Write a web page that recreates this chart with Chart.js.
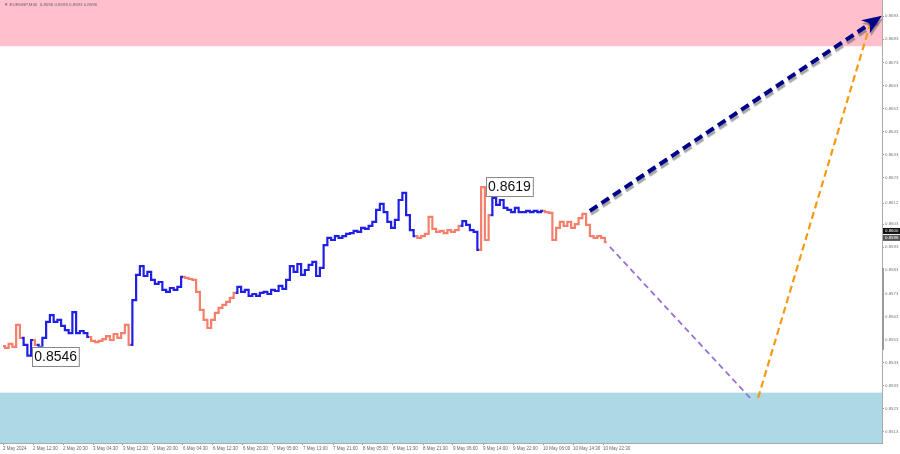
<!DOCTYPE html>
<html><head><meta charset="utf-8">
<script src="https://cdn.jsdelivr.net/npm/chart.js@4.4.1/dist/chart.umd.min.js"></script>
<style>html,body{margin:0;padding:0;background:#fff;}#wrap{width:900px;height:454px;position:relative;}</style>
</head><body><div id="wrap"><canvas id="c" width="900" height="454"></canvas></div>
<script>
// ---- data ----
const closes = [
0.85502,0.85494,0.85511,0.85498,0.85593,0.85537,0.85507,0.85460,0.85528,0.85507,
0.85498,0.85537,0.85606,0.85636,0.85606,0.85615,0.85589,0.85571,0.85558,0.85649,
0.85558,0.85567,0.85558,0.85541,0.85524,0.85519,0.85524,0.85532,0.85545,0.85528,
0.85554,0.85537,0.85558,0.85593,0.85507,0.85701,0.85810,0.85848,0.85805,0.85823,
0.85788,0.85771,0.85779,0.85745,0.85736,0.85753,0.85745,0.85758,0.85801,0.85797,
0.85792,0.85788,0.85736,0.85658,0.85615,0.85580,0.85615,0.85645,0.85667,0.85680,
0.85693,0.85710,0.85732,0.85758,0.85736,0.85745,0.85719,0.85727,0.85719,0.85732,
0.85736,0.85727,0.85745,0.85740,0.85762,0.85749,0.85788,0.85848,0.85823,0.85857,
0.85810,0.85831,0.85853,0.85866,0.85805,0.85840,0.85939,0.85970,0.85961,0.85978,
0.85970,0.85978,0.85987,0.85991,0.86000,0.85996,0.86013,0.86009,0.86022,0.86039,
0.86091,0.86117,0.86082,0.86039,0.86013,0.86048,0.86134,0.86165,0.86069,0.86004,
0.85978,0.85970,0.85978,0.85987,0.86061,0.86009,0.85996,0.86000,0.85991,0.86004,
0.85996,0.86004,0.86022,0.86043,0.86026,0.86004,0.85996,0.85918,0.86190,0.85961,
0.86069,0.86143,0.86113,0.86134,0.86100,0.86091,0.86082,0.86100,0.86082,0.86082,
0.86087,0.86082,0.86087,0.86082,0.86087,0.86082,0.86078,0.85961,0.86013,0.86039,
0.86022,0.86039,0.86013,0.86030,0.86056,0.86074,0.86026,0.85978,0.85970,0.85978,
0.85970,0.85952
];
const barStep = 2;
const waveStarts = [0,5,8,9,23,34,48,62,110,122,127,130,144];
const waveDirs = ['down','up','down','up','down','up','down','up','down','up','down','up','down'];
const timeLabels = ['2 May 2024','2 May 12:30','2 May 20:30','3 May 04:30','3 May 12:30','3 May 20:30',
 '6 May 04:30','6 May 12:30','6 May 20:30','7 May 05:00','7 May 13:00','7 May 21:00','8 May 05:30',
 '8 May 13:30','8 May 21:30','9 May 06:00','9 May 14:00','9 May 22:00','10 May 06:00','10 May 14:30','10 May 22:30'];
const barsPerLabel = 16;
const yTickLabels = ['0.8693','0.8683','0.8673','0.8663','0.8653','0.8643','0.8633','0.8623','0.8612',
 '0.8603','0.8593','0.8583','0.8573','0.8563','0.8553','0.8543','0.8533','0.8523','0.8513'];
const yMin = 0.85082, yMax = 0.87000;
const xMin = -1.6, xMax = 468.8;
const resistanceZone = [0.8680, 0.8700];
const supportZone = [0.85082, 0.8530];
const pathNavy = [[313, 0.86087], [467, 0.86922]];
const pathPurple = [[323.7, 0.85931], [399.5, 0.85268]];
const pathOrange = [[402.7, 0.85277], [462.4, 0.86892]];
const extremes = [{bar: 14, value: 0.8546, text: '0.8546'}, {bar: 256, value: 0.8619, text: '0.8619'}];
const titleText = '\u25BC EURGBP,M30  0.8596 0.8598 0.8593 0.8596';
const priceTags = [{value: 0.86000, text: '0.8600', bg: '#111'}, {value: 0.85970, text: '0.8598', bg: '#555'}];

// ---- styles ----
const UP = '#1f1fe6', DOWN = '#f47f6b';
const FONT = '"Liberation Sans", Arial, sans-serif';
function waveColor(i) {
  let d = waveDirs[0];
  for (let k = 0; k < waveStarts.length; k++) if (waveStarts[k] <= i) d = waveDirs[k];
  return d === 'up' ? UP : DOWN;
}
const toPts = p => p.map(([x, y]) => ({x, y}));

const zonesPlugin = {
  id: 'zones',
  beforeDatasetsDraw(chart) {
    const {ctx, chartArea: a, scales: {y}} = chart;
    ctx.save();
    ctx.fillStyle = '#ffc0cb';
    let t = y.getPixelForValue(resistanceZone[1]), b = y.getPixelForValue(resistanceZone[0]);
    ctx.fillRect(a.left, t, a.right - a.left, b - t);
    ctx.fillStyle = '#add8e6';
    t = y.getPixelForValue(supportZone[1]); b = y.getPixelForValue(supportZone[0]);
    ctx.fillRect(a.left, t, a.right - a.left, b - t);
    ctx.restore();
  },
  beforeDatasetDraw(chart, args) {
    if (args.index === 1) {
      const ctx = chart.ctx;
      ctx.save();
      ctx.shadowColor = 'rgba(60,60,60,0.45)';
      ctx.shadowOffsetX = 1; ctx.shadowOffsetY = 3; ctx.shadowBlur = 1;
    }
  },
  afterDatasetDraw(chart, args) {
    if (args.index === 1) {
      const ctx = chart.ctx;
      const {x, y} = chart.scales;
      const x0 = x.getPixelForValue(pathNavy[0][0]), y0 = y.getPixelForValue(pathNavy[0][1]);
      const x1 = x.getPixelForValue(pathNavy[1][0]), y1 = y.getPixelForValue(pathNavy[1][1]);
      const ang = Math.atan2(y1 - y0, x1 - x0);
      const L = 20, W = 8;
      const tx = x1 + Math.cos(ang) * 4, ty = y1 + Math.sin(ang) * 4;
      ctx.fillStyle = '#00008b';
      ctx.beginPath();
      ctx.moveTo(tx, ty);
      ctx.lineTo(tx - L * Math.cos(ang) + W * Math.sin(ang), ty - L * Math.sin(ang) - W * Math.cos(ang));
      ctx.lineTo(tx - L * 0.7 * Math.cos(ang), ty - L * 0.7 * Math.sin(ang));
      ctx.lineTo(tx - L * Math.cos(ang) - W * Math.sin(ang), ty - L * Math.sin(ang) + W * Math.cos(ang));
      ctx.closePath();
      ctx.fill();
      ctx.restore();
    }
  },
  afterDatasetsDraw(chart) {
    const {ctx, scales: {x, y}} = chart;
    ctx.save();
    ctx.font = '14px ' + FONT;
    ctx.textBaseline = 'middle';
    extremes.forEach(e => {
      const px = x.getPixelForValue(e.bar), py = y.getPixelForValue(e.value);
      const w = ctx.measureText(e.text).width + 4, h = 19;
      const left = px + 3, top = e.value < 0.858 ? py - 9 : py - 10;
      ctx.fillStyle = '#fff';
      ctx.fillRect(left, top, w, h);
      ctx.strokeStyle = '#888'; ctx.lineWidth = 1;
      ctx.strokeRect(Math.round(left) + 0.5, Math.round(top) + 0.5, w, h);
      ctx.fillStyle = '#111';
      ctx.fillText(e.text, left + 2, top + h / 2 + 1);
    });
    ctx.restore();
  },
  afterDraw(chart) {
    const {ctx, chartArea: a, scales: {y}} = chart;
    ctx.save();
    ctx.font = '4.4px ' + FONT;
    ctx.fillStyle = '#666';
    ctx.textBaseline = 'middle';
    ctx.fillText(titleText, 4, 5);
    ctx.fillStyle = '#999';
    const g0 = y.getPixelForValue(0.85840), g1 = y.getPixelForValue(0.85485);
    ctx.fillRect(a.right, g0, 2, g1 - g0);
    ctx.font = '4.4px ' + FONT;
    priceTags.forEach(p => {
      const py = y.getPixelForValue(p.value);
      ctx.fillStyle = p.bg;
      ctx.fillRect(a.right + 1, py - 3, 17, 6);
      ctx.fillStyle = '#fff';
      ctx.fillText(p.text, a.right + 3, py);
    });
    ctx.restore();
  }
};

new Chart(document.getElementById('c'), {
  type: 'line',
  data: {
    datasets: [
      {
        data: closes.map((v, j) => ({x: j * barStep, y: v})),
        borderWidth: 2.2, pointRadius: 0, stepped: 'middle',
        borderColor: DOWN,
        segment: {borderColor: c => waveColor(c.p0DataIndex)}
      },
      {data: toPts(pathNavy), borderColor: '#00008b', borderWidth: 4, borderDash: [9, 5], pointRadius: 0, clip: false},
      {data: toPts(pathPurple), borderColor: '#9a6fd8', borderWidth: 1.8, borderDash: [6, 4], pointRadius: 0},
      {data: toPts(pathOrange), borderColor: '#f59a12', borderWidth: 2.2, borderDash: [7, 4], pointRadius: 0, clip: false}
    ]
  },
  options: {
    responsive: false, animation: false, devicePixelRatio: 1,
    layout: {padding: 0},
    plugins: {legend: {display: false}, tooltip: {enabled: false}},
    scales: {
      x: {
        type: 'linear', min: xMin, max: xMax, position: 'bottom',
        grid: {drawOnChartArea: false, drawTicks: true, tickLength: 2, color: '#999'},
        border: {color: '#aaa'},
        afterBuildTicks: s => { s.ticks = timeLabels.map((_, k) => ({value: k * barsPerLabel})); },
        afterFit: s => { s.height = 11; s.paddingLeft = 0; s.paddingRight = 0; },
        ticks: {
          autoSkip: false, maxRotation: 0, align: 'start', padding: 1,
          font: {size: 4.5, family: FONT}, color: '#666',
          callback: (v) => timeLabels[Math.round(v / barsPerLabel)] ?? ''
        }
      },
      y: {
        type: 'linear', position: 'right', min: yMin, max: yMax,
        grid: {drawOnChartArea: false, drawTicks: true, tickLength: 2, color: '#999'},
        border: {color: '#aaa'},
        afterBuildTicks: s => { s.ticks = yTickLabels.map(t => ({value: parseFloat(t)})); },
        afterFit: s => { s.width = 18; s.paddingTop = 0; s.paddingBottom = 0; },
        ticks: {
          autoSkip: false, padding: 1,
          font: {size: 4.4, family: FONT}, color: '#777',
          callback: (v) => v.toFixed(4)
        }
      }
    }
  },
  plugins: [zonesPlugin]
});
</script>
</body></html>
